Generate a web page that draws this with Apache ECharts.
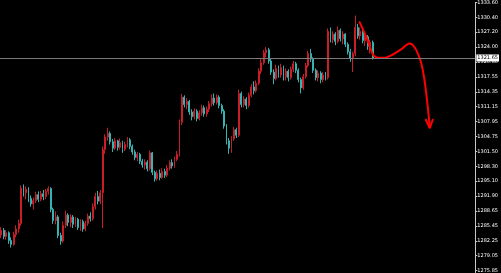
<!DOCTYPE html>
<html>
<head>
<meta charset="utf-8">
<script src="https://cdn.jsdelivr.net/npm/echarts@6/dist/echarts.min.js"></script>
<style>
html,body{margin:0;padding:0;background:#000;}
#c{width:501px;height:273px;}
</style>
</head>
<body>
<div id="c"></div>
<script>
// price tick labels on the right axis
const tickLabels = [1275.85,1279.05,1282.25,1285.45,1288.65,1291.90,1295.10,1298.30,1301.50,1304.75,1307.95,1311.15,1314.35,1317.55,1320.80,1324.00,1327.20,1330.40,1333.60];
const currentPrice = 1321.65;
const slotCount = 192; // chart slots (candles + empty right margin)
// candles: [open, close, low, high]
const candles = [
[1283.5,1284.5,1282.8,1285.2],[1284.5,1283.2,1282.6,1285.0],[1283.2,1284.0,1282.5,1284.6],[1284.0,1282.3,1281.6,1284.3],
[1282.3,1281.5,1280.8,1283.0],[1281.5,1283.6,1281.2,1284.2],[1283.6,1284.8,1283.0,1285.6],[1284.8,1286.0,1284.0,1286.8],
[1286.0,1293.6,1285.5,1294.2],[1293.6,1292.6,1291.8,1294.4],[1292.6,1293.4,1291.2,1294.0],[1293.4,1291.4,1290.6,1293.8],
[1291.4,1290.2,1289.6,1292.0],[1290.2,1290.9,1289.0,1291.6],[1290.9,1292.2,1290.4,1292.8],[1292.2,1291.2,1290.6,1292.9],
[1291.2,1292.4,1290.8,1293.0],[1292.4,1291.8,1291.0,1293.2],[1291.8,1292.9,1291.2,1293.4],[1292.9,1293.5,1292.2,1294.0],
[1293.5,1289.0,1288.4,1293.8],[1289.0,1286.6,1285.9,1289.4],[1286.6,1287.4,1285.8,1288.6],[1287.4,1283.4,1282.8,1287.8],
[1283.4,1282.2,1281.4,1284.0],[1282.2,1285.6,1281.8,1286.4],[1285.6,1287.8,1285.0,1288.8],[1287.8,1286.2,1285.4,1288.2],
[1286.2,1287.4,1285.2,1288.0],[1287.4,1285.8,1285.0,1287.8],[1285.8,1286.9,1285.2,1287.4],[1286.9,1285.1,1284.6,1287.2],
[1285.1,1286.4,1284.4,1286.9],[1286.4,1284.8,1284.2,1286.8],[1284.8,1286.0,1284.3,1286.6],[1286.0,1287.6,1285.5,1288.1],
[1287.6,1287.0,1286.4,1288.4],[1287.0,1289.6,1286.6,1290.3],[1289.6,1291.8,1289.0,1292.6],[1291.8,1290.8,1290.1,1293.0],
[1290.8,1292.6,1290.2,1293.2],[1292.6,1301.9,1285.0,1302.6],[1301.9,1304.6,1301.0,1305.2],[1304.6,1305.4,1303.8,1306.6],
[1305.4,1303.6,1303.0,1305.8],[1303.6,1302.2,1301.4,1304.2],[1302.2,1303.8,1301.8,1304.4],[1303.8,1302.4,1301.7,1304.0],
[1302.4,1303.4,1301.9,1304.3],[1303.4,1302.0,1301.2,1303.8],[1302.0,1303.0,1301.6,1303.6],[1303.0,1304.0,1302.4,1304.6],
[1304.0,1302.6,1302.0,1304.4],[1302.6,1301.4,1300.8,1303.0],[1301.4,1300.2,1299.6,1301.9],[1300.2,1300.9,1299.4,1301.4],
[1300.9,1299.4,1298.8,1301.2],[1299.4,1298.6,1298.0,1299.9],[1298.6,1299.2,1297.6,1299.8],[1299.2,1297.8,1297.2,1299.6],
[1297.8,1301.2,1297.4,1301.7],[1301.2,1297.0,1296.4,1301.4],[1297.0,1295.6,1295.0,1297.4],[1295.6,1296.8,1295.2,1297.4],
[1296.8,1295.9,1295.3,1297.6],[1295.9,1297.2,1295.6,1297.9],[1297.2,1296.4,1295.8,1297.8],[1296.4,1297.9,1296.0,1298.6],
[1297.9,1299.1,1297.4,1299.6],[1299.1,1298.4,1297.8,1299.8],[1298.4,1299.8,1298.0,1300.4],[1299.8,1300.9,1299.4,1301.6],
[1300.9,1307.8,1300.4,1308.4],[1307.8,1313.2,1307.2,1313.9],[1313.2,1311.6,1311.0,1313.6],[1311.6,1312.3,1310.6,1313.0],
[1312.3,1310.0,1309.4,1312.6],[1310.0,1309.0,1308.2,1310.6],[1309.0,1310.2,1308.4,1310.8],[1310.2,1308.6,1308.0,1310.6],
[1308.6,1309.8,1308.2,1310.4],[1309.8,1310.9,1309.2,1311.6],[1310.9,1309.6,1309.0,1311.4],[1309.6,1310.6,1309.0,1311.2],
[1310.6,1311.8,1310.0,1312.4],[1311.8,1313.0,1311.2,1313.8],[1313.0,1312.0,1311.4,1314.0],[1312.0,1313.2,1311.6,1313.8],
[1313.2,1311.4,1310.8,1313.6],[1311.4,1310.2,1309.6,1311.8],[1310.2,1307.0,1306.4,1310.6],[1307.0,1303.8,1303.0,1307.4],
[1303.8,1302.2,1301.0,1304.4],[1302.2,1304.2,1301.2,1304.8],[1304.2,1306.2,1303.8,1306.8],[1306.2,1305.0,1304.4,1306.6],
[1305.0,1314.0,1304.6,1314.8],[1314.0,1311.6,1311.0,1314.4],[1311.6,1312.8,1311.0,1313.4],[1312.8,1311.4,1310.6,1313.2],
[1311.4,1313.6,1311.0,1314.2],[1313.6,1315.4,1313.2,1316.0],[1315.4,1314.6,1313.8,1316.6],[1314.6,1316.2,1314.2,1316.8],
[1316.2,1318.8,1315.8,1319.4],[1318.8,1320.6,1318.2,1321.4],[1320.6,1322.8,1320.2,1323.4],[1322.8,1323.4,1321.8,1324.0],
[1323.4,1321.0,1320.4,1323.8],[1321.0,1318.6,1318.0,1321.4],[1318.6,1317.2,1316.0,1319.2],[1317.2,1319.4,1316.8,1320.2],
[1319.4,1318.0,1317.4,1320.0],[1318.0,1319.6,1317.4,1320.4],[1319.6,1317.6,1316.8,1320.0],[1317.6,1318.8,1316.8,1319.4],
[1318.8,1317.4,1316.6,1319.2],[1317.4,1319.2,1317.0,1319.8],[1319.2,1320.4,1318.6,1321.0],[1320.4,1319.0,1318.4,1320.8],
[1319.0,1317.0,1316.4,1319.4],[1317.0,1315.2,1314.0,1317.4],[1315.2,1317.6,1314.8,1318.2],[1317.6,1320.0,1317.2,1320.6],
[1320.0,1322.6,1319.6,1323.2],[1322.6,1321.4,1320.8,1323.6],[1321.4,1319.0,1318.4,1321.8],[1319.0,1317.4,1316.8,1319.4],
[1317.4,1318.4,1316.6,1319.0],[1318.4,1317.0,1316.2,1318.8],[1317.0,1318.0,1316.4,1318.6],[1318.0,1317.4,1316.8,1318.6],
[1317.4,1327.4,1317.0,1328.0],[1327.4,1325.6,1325.0,1328.2],[1325.6,1326.8,1324.8,1327.4],[1326.8,1325.2,1324.4,1327.2],
[1325.2,1327.6,1324.8,1328.4],[1327.6,1325.8,1325.2,1328.0],[1325.8,1326.8,1324.6,1327.4],[1326.8,1324.6,1324.0,1327.0],
[1324.6,1323.0,1322.4,1325.0],[1323.0,1321.6,1320.8,1323.6],[1321.6,1322.6,1318.6,1323.0],[1322.6,1328.2,1322.0,1330.8],
[1328.2,1326.4,1325.8,1329.0],[1326.4,1327.4,1325.6,1328.2],[1327.4,1325.4,1324.8,1327.8],[1325.4,1326.2,1324.2,1326.8],
[1326.2,1324.2,1323.4,1326.6],[1324.2,1325.0,1322.6,1325.6],[1325.0,1321.65,1321.3,1325.4]
];
// hand-drawn forecast arrow: [slot position, price]
const arrowPath = [[144.6,1329.55],[147.5,1326.14],[150.2,1322.3],[152.0,1321.7],[154.7,1321.67],[157.5,1322.2],[161.5,1323.5],[164.8,1324.75],[166.0,1324.55],[167.6,1323.4],[169.4,1321.0],[170.8,1317.5],[171.9,1313.0],[172.6,1309.5],[173.1,1306.6]];
const arrowHead = [[171.4,1308.5],[173.1,1306.5],[174.4,1308.5]];

const categories = Array.from({length: slotCount}, (_, i) => String(i + 1));

const chart = echarts.init(document.getElementById('c'), null, {renderer: 'canvas'});
chart.setOption({
  backgroundColor: '#000000',
  animation: false,
  grid: {left: 0, right: 21, top: 0, bottom: 0},
  xAxis: [
    {type: 'category', data: categories, show: false, boundaryGap: true},
    {type: 'value', min: -0.5, max: slotCount - 0.5, show: false}
  ],
  yAxis: {
    type: 'value', position: 'right', min: 1275.42, max: 1333.60, scale: true,
    splitLine: {show: false},
    axisLine: {show: true, onZero: false, lineStyle: {color: '#c8c8c8', width: 1}},
    axisTick: {show: true, length: 2, lineStyle: {color: '#c8c8c8'}, customValues: tickLabels},
    axisLabel: {
      show: true, color: '#ffffff', fontSize: 5, margin: 2,
      fontFamily: 'DejaVu Sans',
      customValues: tickLabels,
      formatter: v => v.toFixed(2)
    }
  },
  series: [
    {
      type: 'candlestick', xAxisIndex: 0, data: candles, barWidth: 1.4,
      itemStyle: {color: '#c81e28', color0: '#36b2b2', borderColor: '#c81e28', borderColor0: '#36b2b2', borderWidth: 1},
      markLine: {
        silent: true, symbol: ['none', 'none'],
        lineStyle: {color: '#7a7a7a', width: 1, type: 'solid'},
        label: {show: true, position: 'end', distance: 1, formatter: currentPrice.toFixed(2),
          backgroundColor: '#ffffff', color: '#000000', fontSize: 5, fontFamily: 'DejaVu Sans', padding: [1, 1]},
        data: [{yAxis: currentPrice}]
      }
    },
    {
      type: 'line', xAxisIndex: 1, data: arrowPath, smooth: 0.2, symbol: 'none',
      lineStyle: {color: '#ff0000', width: 2}
    },
    {
      type: 'line', xAxisIndex: 1, data: arrowHead, symbol: 'none',
      lineStyle: {color: '#ff0000', width: 2}
    }
  ]
});
</script>
</body>
</html>
